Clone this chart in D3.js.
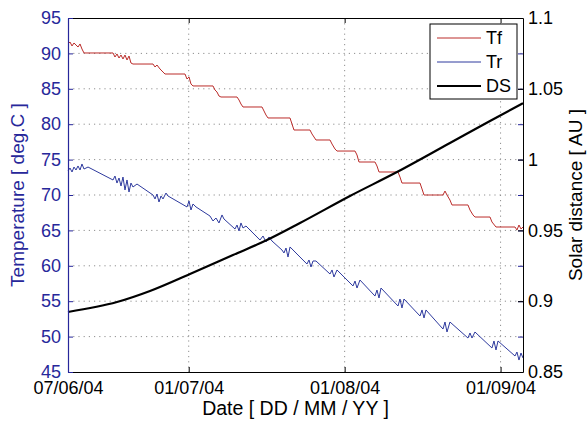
<!DOCTYPE html>
<html>
<head>
<meta charset="utf-8">
<script src="https://d3js.org/d3.v7.min.js"></script>
<style>
  body { margin: 0; background: #fff; }
  text { font-family: "Liberation Sans", Arial, sans-serif; }
</style>
</head>
<body>
<div id="chart"></div>
<script>
// ---- data (days counted from 07/06/2004) ----
var startDate = new Date(2004, 5, 7);
var endDay = 90.46;

var tickDates = ["2004-06-07", "2004-07-01", "2004-08-01", "2004-09-01"];
var tickDateLabels = ["07/06/04", "01/07/04", "01/08/04", "01/09/04"];
var tempTicks = [45, 50, 55, 60, 65, 70, 75, 80, 85, 90, 95];
var distTicks = [0.85, 0.9, 0.95, 1, 1.05, 1.1];

var tfDays = [0, 0.4, 0.8, 1.19, 1.59, 1.99, 2.39, 2.78, 3.18, 8.95, 9.34, 9.74, 10.14, 10.54, 10.93, 11.33, 11.73, 12.13, 12.52, 12.92,
  16.9, 17.3, 17.69, 18.29, 18.89, 19.28, 23.26, 23.66, 24.06, 24.45, 24.85, 28.83, 29.22, 29.62, 30.02, 30.42,
  33.6, 34, 34.39, 34.79, 38.57, 38.97, 39.36, 39.76, 44.14, 44.53, 44.93, 48.11, 48.51, 48.91, 49.3,
  52.09, 52.49, 53.08, 53.48, 57.06, 57.46, 57.85, 61.03, 61.43, 61.83, 65.61, 66, 66.4, 69.98, 70.38, 70.78,
  74.55, 74.95, 75.35, 75.94, 76.34, 79.52, 79.92, 80.52, 80.91, 83.9, 84.29, 85.09, 88.87, 89.26, 89.66, 90.06, 90.46];
var tfTemps = [91.33, 91.61, 91.05, 91.47, 91.19, 90.9, 91.33, 90.62, 90.06, 90.06, 89.49, 89.92, 89.35, 89.77, 89.21, 89.77, 89.07, 89.63, 88.64, 88.5,
  88.5, 88.08, 88.36, 87.8, 87.37, 87.09, 87.09, 86.38, 86.67, 85.68, 85.4, 85.4, 84.83, 84.55, 83.98, 83.84,
  83.84, 83.42, 82.85, 82.43, 82.43, 81.86, 81.3, 80.88, 80.88, 80.03, 79.18, 79.18, 78.62, 78.19, 77.77,
  77.77, 77.2, 76.5, 76.21, 76.21, 75.65, 74.66, 74.66, 74.1, 73.25, 73.25, 72.54, 71.69, 71.69, 70.85, 70,
  70, 70.56, 70, 69.29, 68.59, 68.59, 67.88, 67.18, 66.89, 66.89, 66.19, 65.48, 65.48, 65.06, 65.76, 65.2, 65.48];

var trDays = [0, 0.4, 0.8, 1.19, 1.59, 1.99, 2.39, 2.78, 3.18, 3.98, 8.95, 9.34, 9.74, 10.14, 10.54, 10.93, 11.33, 11.73, 12.13, 12.52, 12.92, 13.72,
  16.9, 17.3, 17.69, 18.09, 18.49, 18.89, 19.48, 19.88, 23.66, 24.06, 24.45, 24.85, 25.45,
  28.23, 28.83, 29.42, 30.02, 30.62, 31.01, 33.2, 33.6, 34, 34.39, 34.79, 35.39,
  38.17, 38.77, 39.36, 39.96, 40.56, 42.54, 42.94, 43.34, 43.74, 44.14,
  47.51, 47.91, 48.31, 48.71, 49.3, 52.09, 52.49, 52.88, 53.48, 56.66, 57.06, 57.46, 58.05,
  61.03, 61.43, 61.83, 62.23, 65.61, 66, 66.4, 66.8, 69.98, 70.38, 70.78, 71.17,
  74.55, 74.95, 75.35, 75.94, 79.52, 79.92, 80.32, 80.91, 84.29, 84.69, 85.09, 85.49,
  88.87, 89.26, 89.66, 90.06, 90.46];
var trTemps = [73.39, 73.81, 73.25, 73.95, 73.53, 74.1, 73.53, 74.38, 73.67, 73.95, 72.12, 72.68, 71.69, 72.4, 71.27, 72.54, 70.71, 72.12, 70.42, 71.69, 71.13, 71.55,
  70, 69.44, 70.14, 69.01, 69.86, 69.44, 70.28, 69.86, 68.31, 69.15, 67.88, 68.73, 68.31,
  67.03, 66.33, 66.75, 66.05, 67.18, 66.61, 65.2, 65.76, 64.92, 66.05, 65.34, 65.62,
  63.64, 64.21, 63.36, 64.07, 63.5, 62.23, 61.81, 62.51, 61.24, 62.66,
  60.25, 60.82, 59.83, 60.68, 60.68, 58.84, 59.41, 58.42, 59.41, 57.15, 57.85, 56.86, 57.99,
  55.73, 56.58, 55.45, 56.86, 54.32, 55.31, 54.04, 55.31, 52.91, 53.76, 52.63, 53.76,
  51.07, 52.06, 50.65, 52.06, 49.8, 50.51, 49.8, 50.65, 48.39, 49.38, 48.11, 49.38,
  47.26, 47.82, 46.69, 47.68, 46.98];

var dsDays = [0, 9.74, 16.3, 24.25, 32.8, 39.56, 46.12, 56.06, 65.41, 75.94, 83.9, 90.46];
var dsValues = [0.8924, 0.8994, 0.9072, 0.9192, 0.9326, 0.9432, 0.9552, 0.9743, 0.9912, 1.0117, 1.0272, 1.0399];

var legendNames = ["Tf", "Tr", "DS"];

// ---- layout ----
var W = 587, H = 421;
var margin = { top: 18, right: 64, bottom: 49, left: 68 };
var width = W - margin.left - margin.right,
    height = H - margin.top - margin.bottom;

var blue = "#27279a", red = "#bb2c2a", lineBlue = "#2e3a9e";

function dayToDate(d) { return new Date(startDate.getTime() + d * 864e5); }

var x = d3.scaleTime()
    .domain([startDate, dayToDate(endDay)])
    .range([0, width]);
var yT = d3.scaleLinear().domain([45, 95]).range([height, 0]);
var yD = d3.scaleLinear().domain([0.85, 1.1]).range([height, 0]);

var svg = d3.select("#chart").append("svg")
    .attr("width", W)
    .attr("height", H);
var g = svg.append("g")
    .attr("transform", "translate(" + margin.left + "," + margin.top + ")");

var tickX = tickDates.map(function (s) { return d3.timeParse("%Y-%m-%d")(s); });

// grid
g.append("g").selectAll("line").data(tempTicks.slice(1, -1)).enter().append("line")
    .attr("x1", 0).attr("x2", width)
    .attr("y1", function (d) { return yT(d); }).attr("y2", function (d) { return yT(d); })
    .attr("stroke", "#8f8f8f").attr("stroke-width", 1).attr("stroke-dasharray", "1.2,4");
g.append("g").selectAll("line").data(tickX.slice(1)).enter().append("line")
    .attr("x1", function (d) { return x(d); }).attr("x2", function (d) { return x(d); })
    .attr("y1", 0).attr("y2", height)
    .attr("stroke", "#8f8f8f").attr("stroke-width", 1).attr("stroke-dasharray", "1.2,4");

// series
var line = d3.line()
    .x(function (d) { return x(dayToDate(d[0])); })
    .y(function (d) { return yT(d[1]); });

g.append("path")
    .datum(d3.zip(trDays, trTemps))
    .attr("fill", "none").attr("stroke", lineBlue).attr("stroke-width", 1)
    .attr("d", line);

g.append("path")
    .datum(d3.zip(tfDays, tfTemps))
    .attr("fill", "none").attr("stroke", red).attr("stroke-width", 1)
    .attr("d", line);

var dsLine = d3.line()
    .curve(d3.curveMonotoneX)
    .x(function (d) { return x(dayToDate(d[0])); })
    .y(function (d) { return yD(d[1]); });
g.append("path")
    .datum(d3.zip(dsDays, dsValues))
    .attr("fill", "none").attr("stroke", "#000").attr("stroke-width", 2.2)
    .attr("d", dsLine);

// axes (ticks inward, matlab style)
var fmt = function (d, i) { return tickDateLabels[i]; };
var bottomAxis = g.append("g")
    .attr("transform", "translate(0," + height + ")")
    .call(d3.axisBottom(x).tickValues(tickX).tickFormat(fmt).tickSizeInner(-5).tickSizeOuter(0).tickPadding(12));
var topAxis = g.append("g")
    .call(d3.axisTop(x).tickValues(tickX).tickFormat("").tickSizeInner(-5).tickSizeOuter(0));

var leftAxis = g.append("g")
    .call(d3.axisLeft(yT).tickValues(tempTicks).tickSizeInner(-5).tickSizeOuter(0).tickPadding(7));
var rightMirror = g.append("g")
    .attr("transform", "translate(" + width + ",0)")
    .call(d3.axisRight(yT).tickValues(tempTicks).tickFormat("").tickSizeInner(-5).tickSizeOuter(0));
var rightAxis = g.append("g")
    .attr("transform", "translate(" + width + ",0)")
    .call(d3.axisRight(yD).tickValues(distTicks).tickFormat(function (d) { return d3.format("")(+d.toFixed(2)); })
      .tickSizeInner(-5).tickSizeOuter(0).tickPadding(5));

[bottomAxis, topAxis, rightAxis].forEach(function (a) {
  a.select(".domain").attr("stroke", "#000");
  a.selectAll(".tick line").attr("stroke", "#000");
  a.selectAll("text").attr("fill", "#000").attr("font-size", 18);
});
leftAxis.select(".domain").attr("stroke", blue).attr("stroke-width", 1.2);
leftAxis.selectAll(".tick line").attr("stroke", blue);
leftAxis.selectAll("text").attr("fill", blue).attr("font-size", 18);
rightMirror.select(".domain").remove();
rightMirror.selectAll(".tick line").attr("stroke", blue);
topAxis.select(".domain").attr("stroke", "#000");
bottomAxis.selectAll("text").attr("dy", "0.55em");

// axis titles
svg.append("text")
    .attr("transform", "translate(24," + (margin.top + height / 2) + ") rotate(-90)")
    .attr("text-anchor", "middle").attr("fill", blue).attr("font-size", 19)
    .text("Temperature [ deg.C ]");
svg.append("text")
    .attr("transform", "translate(582," + (margin.top + height / 2) + ") rotate(-90)")
    .attr("text-anchor", "middle").attr("fill", "#000").attr("font-size", 19)
    .text("Solar distance [ AU ]");
svg.append("text")
    .attr("x", margin.left + width / 2).attr("y", 415)
    .attr("text-anchor", "middle").attr("fill", "#000").attr("font-size", 19.5)
    .text("Date [ DD / MM / YY ]");

// legend
var legend = svg.append("g").attr("transform", "translate(430,24)");
legend.append("rect").attr("width", 87).attr("height", 75)
    .attr("fill", "#fff").attr("stroke", "#000").attr("stroke-width", 1);
var legendColors = [red, lineBlue, "#000"];
var legendWidths = [1, 1, 2.2];
legendNames.forEach(function (name, i) {
  var yy = 14 + i * 24;
  legend.append("line").attr("x1", 7).attr("x2", 51).attr("y1", yy).attr("y2", yy)
      .attr("stroke", legendColors[i]).attr("stroke-width", legendWidths[i]);
  legend.append("text").attr("x", 56).attr("y", yy).attr("dy", "0.35em")
      .attr("font-size", 18).attr("fill", "#000").text(name);
});
</script>
</body>
</html>
